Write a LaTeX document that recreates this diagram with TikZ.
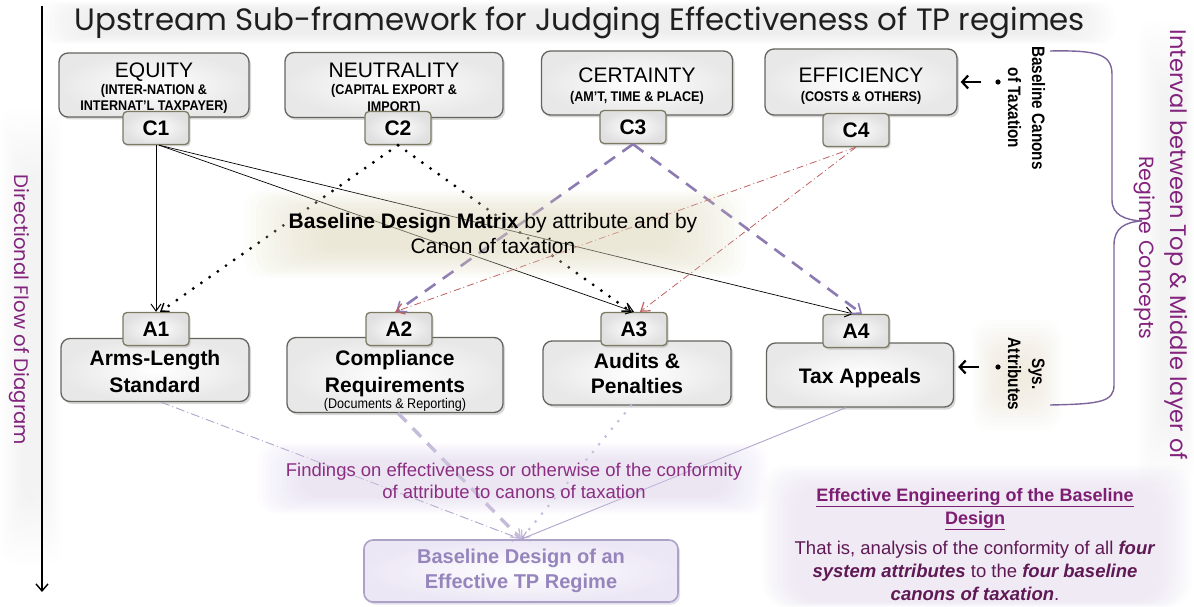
\documentclass[tikz,border=0pt]{standalone}
\usepackage{fontspec}
\usepackage{graphicx}
\setmainfont{Liberation Sans}
\newfontfamily\hand{Poppins}
\usetikzlibrary{arrows.meta,shadows,calc}
\definecolor{hpurp}{RGB}{130,35,125}
\definecolor{dashp}{RGB}{140,122,178}
\definecolor{redc}{RGB}{192,96,96}
\definecolor{lav}{RGB}{196,186,218}
\definecolor{lavd}{RGB}{176,164,205}
\definecolor{brk}{RGB}{125,100,155}
\definecolor{findc}{RGB}{140,45,130}
\definecolor{engc}{RGB}{125,30,115}
\definecolor{bodyc}{RGB}{95,25,85}
\definecolor{bdtext}{RGB}{150,132,188}
\definecolor{tagborder}{RGB}{125,122,100}
\definecolor{boxborder}{RGB}{100,100,95}
\definecolor{glowb}{RGB}{226,218,188}
\definecolor{glowl}{RGB}{222,212,238}
\definecolor{glowg}{RGB}{215,215,215}
\newcommand{\nrw}[1]{\scalebox{0.9}[1]{#1}}
\newcommand{\nrwb}[1]{\scalebox{0.85}[1]{#1}}
\tikzset{
  bigbox/.style={draw=boxborder, line width=1.3pt, rounded corners=9pt,
    inner color=white, outer color=black!9, inner sep=0pt,
    drop shadow={shadow xshift=2pt, shadow yshift=-2.5pt, opacity=0.3}},
  tagbox/.style={draw=tagborder, line width=1.3pt, rounded corners=4pt,
    inner color=white, outer color=black!12, minimum width=66pt, minimum height=33pt,
    inner sep=0pt, font=\fontsize{21}{25}\selectfont\bfseries,
    drop shadow={shadow xshift=1.5pt, shadow yshift=-2pt, opacity=0.3}},
  hd/.style={anchor=base, inner sep=0pt, font=\fontsize{21}{25}\selectfont},
  hdb/.style={anchor=base, inner sep=0pt, font=\fontsize{21}{25}\selectfont\bfseries},
  sub/.style={anchor=base, inner sep=0pt, font=\fontsize{14}{16}\selectfont\bfseries},
  solidc/.style={draw=black, line width=0.7pt, -{Straight Barb[length=7pt,width=10pt,line width=1pt]}},
  dotc/.style={draw=black, line width=3.2pt, line cap=round, dash pattern=on 0pt off 10pt,
    -{Straight Barb[length=7pt,width=10pt,line width=1.4pt]}},
  purc/.style={draw=dashp, line width=2.6pt, dash pattern=on 13pt off 9pt,
    -{Straight Barb[length=8pt,width=13pt,line width=1.6pt]}},
  redc/.style={draw=redc, line width=0.8pt, dash pattern=on 7pt off 3pt on 1pt off 3pt,
    -{Straight Barb[length=8pt,width=11pt,line width=1.2pt]}},
  botA/.style={draw=lavd, line width=0.9pt, dash pattern=on 9pt off 3pt on 1pt off 3pt,
    -{Straight Barb[length=7pt,width=10pt,line width=1pt]}},
  botB/.style={draw=lav, line width=3.4pt, dash pattern=on 12pt off 9pt,
    -{Straight Barb[length=8pt,width=12pt,line width=1.4pt]}},
  botC/.style={draw=lav, line width=3pt, line cap=round, dash pattern=on 0pt off 10pt,
    -{Straight Barb[length=7pt,width=11pt,line width=1.2pt]}},
  botD/.style={draw=lavd, line width=0.9pt, -{Straight Barb[length=7pt,width=10pt,line width=1pt]}},
  sidearr/.style={draw=black, line width=2.4pt, -{Straight Barb[length=6pt,width=13pt,line width=2.2pt]}},
  rtext/.style={rotate=-90, inner sep=0pt, font=\fontsize{18}{24}\selectfont\bfseries},
  find/.style={align=center, inner sep=0pt, text=findc, font=\fontsize{18.5}{22.5}\selectfont},
  eng/.style={anchor=base, inner sep=0pt, text=engc, font=\fontsize{18}{22}\selectfont\bfseries},
  body/.style={anchor=base, inner sep=0pt, text=bodyc, font=\fontsize{18.5}{22}\selectfont},
  bdbox/.style={draw={rgb,255:red,172;green,162;blue,198}, line width=1.6pt, rounded corners=9pt,
    inner color=white, outer color={rgb,255:red,236;green,231;blue,245},
    minimum width=314pt, minimum height=62pt, align=center, text=bdtext,
    font=\fontsize{20}{25}\selectfont\bfseries,
    drop shadow={shadow xshift=2pt, shadow yshift=-2.5pt, opacity=0.25, fill={rgb,255:red,150;green,130;blue,180}}},
}
\begin{document}
\begin{tikzpicture}[x=1pt,y=-1pt]
\useasboundingbox (0,0) rectangle (1194,607);
\fill[white] (0,0) rectangle (1194,607);
% background glows
\foreach \i in {0,...,11} {
  \fill[glowg, opacity=0.03, rounded corners=14pt] ({40+\i*5},{2+\i*1}) rectangle ({1115-\i*5},{44-\i*1});
  \fill[glowg, opacity=0.022, rounded corners=14pt] ({0+\i*2},{110+\i*6}) rectangle ({62-\i*2},{565-\i*6});
  \fill[glowg, opacity=0.022, rounded corners=14pt] ({1138+\i*2},{20+\i*6}) rectangle ({1194-\i*1},{485-\i*6});
  \fill[glowl, opacity=0.04, rounded corners=24pt] ({762+\i*3},{465+\i*2}) rectangle ({1192-\i*3},{607-\i*0.5});
  \fill[glowb, opacity=0.045, rounded corners=18pt] ({972+\i*3},{320+\i*4}) rectangle ({1062-\i*3},{430-\i*4});
}
% left flow arrow
\coordinate (vt) at (42,6);
\coordinate (vb) at (42,592);
\draw[line width=1.2pt, -{Straight Barb[length=7pt,width=12pt,line width=1.4pt]}] (vt) -- (vb);
\node[rotate=-90, inner sep=0pt, text=hpurp] (dfl) at (19,310) {\resizebox{270pt}{!}{\hand Directional Flow of Diagram}};
% title
\node[inner sep=0pt, text=black!88] (title) at (580,23) {\resizebox{1010pt}{!}{\hand Upstream Sub-framework for Judging Effectiveness of TP regimes}};
% top boxes
\node[bigbox, minimum width=190pt, minimum height=64pt] (eq) at (154,85) {};
\node[bigbox, minimum width=218pt, minimum height=65pt] (ne) at (394,85) {};
\node[bigbox, minimum width=191pt, minimum height=64pt] (ce) at (637,83) {};
\node[bigbox, minimum width=192pt, minimum height=66pt] (ef) at (861,82) {};
\node[hd] (eqt) at (154,78) {EQUITY};
\node[sub] (eqs1) at (154,95) {\nrw{(INTER-NATION \&}};
\node[sub] (eqs2) at (154,111) {\nrw{INTERNAT'L TAXPAYER)}};
\node[hd] (net) at (394,78) {NEUTRALITY};
\node[sub] (nes1) at (394,95) {\nrw{(CAPITAL EXPORT \&}};
\node[sub] (nes2) at (394,112) {\nrw{IMPORT)}};
\node[hd] (cet) at (637,83) {CERTAINTY};
\node[sub] (ces1) at (637,102) {\nrw{(AM'T, TIME \& PLACE)}};
\node[hd] (eft) at (861,83) {EFFICIENCY};
\node[sub] (efs1) at (861,102) {\nrw{(COSTS \& OTHERS)}};
\node[tagbox] (c1) at (156,128) {C1};
\node[tagbox] (c2) at (398,128) {C2};
\node[tagbox] (c3) at (633,127) {C3};
\node[tagbox] (c4) at (856,130) {C4};
% attribute boxes
\node[bigbox, minimum width=188pt, minimum height=63pt] (a1b) at (155,370) {};
\node[bigbox, minimum width=216pt, minimum height=75pt] (a2b) at (395,375) {};
\node[bigbox, minimum width=188pt, minimum height=64pt] (a3b) at (637,373) {};
\node[bigbox, minimum width=187pt, minimum height=64pt] (a4b) at (860,375) {};
\node[hdb] (a1t1) at (155,365) {Arms-Length};
\node[hdb] (a1t2) at (155,392) {Standard};
\node[hdb] (a2t1) at (395,365) {Compliance};
\node[hdb] (a2t2) at (395,392) {Requirements};
\node[anchor=base, inner sep=0pt, font=\fontsize{14}{16}\selectfont] (a2t3) at (395,408) {\nrw{(Documents \& Reporting)}};
\node[hdb] (a3t1) at (637,368) {Audits \&};
\node[hdb] (a3t2) at (637,393) {Penalties};
\node[hdb] (a4t1) at (860,383) {Tax Appeals};
\node[tagbox] (a1) at (156,329) {A1};
\node[tagbox] (a2) at (399,329) {A2};
\node[tagbox] (a3) at (634,329) {A3};
\node[tagbox] (a4) at (856,331) {A4};
% connectors canon -> attribute
\draw[solidc, line width=1pt] (c1.south) -- (a1.north);
\draw[solidc] ([xshift=3pt]c1.south) -- (a3.north);
\draw[solidc] ([xshift=3pt]c1.south) -- ([xshift=-3pt]a4.north);
\draw[dotc] (c2.south) -- ([xshift=4pt]a1.north);
\draw[dotc] (c2.south) -- ([xshift=-3pt]a3.north);
\draw[purc] (c3.south) -- ([xshift=-3pt]a2.north);
\draw[purc] (c3.south) -- ([xshift=6pt]a4.north);
\draw[redc] (c4.south) -- ([xshift=-4pt]a2.north);
\draw[redc] (c4.south) -- ([xshift=6pt]a3.north);
% matrix glow and text
\foreach \i in {0,...,13} {
  \fill[glowb, opacity=0.05, rounded corners=18pt] ({244+\i*6},{190+\i*2.2}) rectangle ({746-\i*6},{278-\i*2.2});
}
\node[align=center, inner sep=0pt, font=\fontsize{21}{25}\selectfont] (mat) at (493,233) {\textbf{Baseline Design Matrix} by attribute and by\\Canon of taxation};
% side markers
\coordinate (bcdot) at (998,82);
\coordinate (bcarr) at (981,82);
\fill (bcdot) circle (2.6pt);
\draw[sidearr, shorten >=3pt] (bcarr) -- (bcarr -| ef.east);
\node[rtext] (bct) at (1025,108) {\nrwb{\begin{tabular}{@{}c@{}}Baseline Canons\\of Taxation\end{tabular}}};
\coordinate (sadot) at (998,367);
\coordinate (saarr) at (979,367);
\fill (sadot) circle (2.6pt);
\draw[sidearr, shorten >=4pt] (saarr) -- (saarr -| a4b.east);
\node[rtext] (sat) at (1025,374) {\nrwb{\begin{tabular}{@{}c@{}}Sys.\\Attributes\end{tabular}}};
% bracket
\draw[brk, line width=1.4pt] (1050,51) .. controls (1100,50) and (1112,55) .. (1112,75) -- (1112,200)
   .. controls (1112,215) and (1125,220) .. (1142,221);
\draw[brk, line width=1.4pt] (1142,221) .. controls (1125,222) and (1114,228) .. (1114,245) -- (1114,385)
   .. controls (1114,402) and (1100,404) .. (1050,405);
\node[rotate=-90, inner sep=0pt, text=hpurp] (iv1) at (1176,245) {\resizebox{430pt}{!}{\hand Interval between Top \& Middle layer of}};
\node[rotate=-90, inner sep=0pt, text=hpurp] (iv2) at (1145,248) {\resizebox{183pt}{!}{\hand Regime Concepts}};
% bottom box and findings
\node[bdbox] (bd) at (521,571) {Baseline Design of an\\Effective TP Regime};
\draw[botA] ([xshift=6pt]a1b.south) -- (bd.north);
\draw[botB] ([xshift=3pt]a2b.south) -- (bd.north);
\draw[botC] ([xshift=-6pt]a3b.south) -- (bd.north);
\draw[botD] ([xshift=-14pt]a4b.south) -- (bd.north);
\foreach \i in {0,...,11} {
  \fill[glowl, opacity=0.05, rounded corners=18pt] ({258+\i*4},{443+\i*1.6}) rectangle ({768-\i*4},{514-\i*1.6});
}
\node[find] (fnd) at (514,481) {Findings on effectiveness or otherwise of the conformity\\of attribute to canons of taxation};
% effective engineering
\node[eng] (en1) at (975,501) {\underline{Effective Engineering of the Baseline}};
\node[eng] (en2) at (975,524) {\underline{Design}};
\node[body] (bo1) at (975,554) {That is, analysis of the conformity of all \textbf{\textit{four}}};
\node[body] (bo2) at (975,577) {\textbf{\textit{system attributes}} to the \textbf{\textit{four baseline}}};
\node[body] (bo3) at (975,600) {\textbf{\textit{canons of taxation}}.};
\end{tikzpicture}
\end{document}
